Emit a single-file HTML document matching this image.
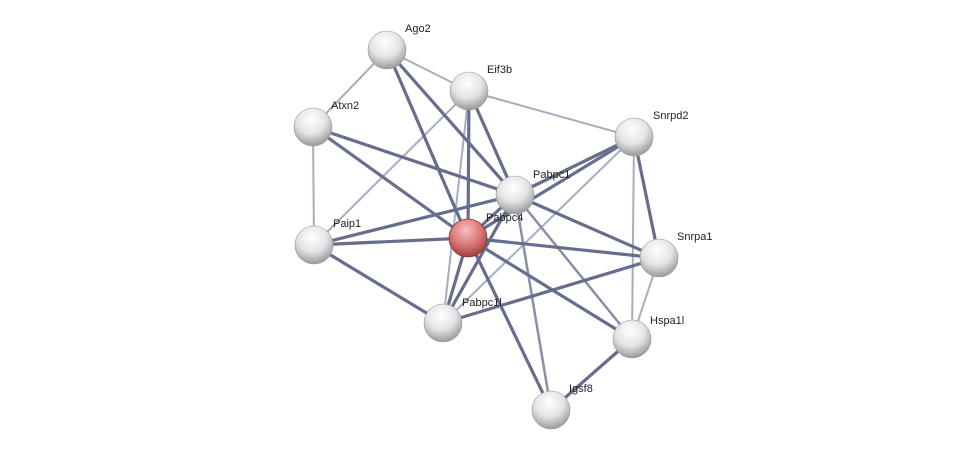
<!DOCTYPE html><html><head><style>body{margin:0;background:#fff}svg{display:block}text{font-family:"Liberation Sans",sans-serif;font-size:11px;fill:#222}</style></head><body>
<svg width="976" height="455" xmlns="http://www.w3.org/2000/svg">
<defs>
<radialGradient id="g" cx="45%" cy="30%" r="70%"><stop offset="0" stop-color="#fff"/><stop offset="0.55" stop-color="#e4e4e4"/><stop offset="1" stop-color="#999"/></radialGradient>
<radialGradient id="r" cx="45%" cy="30%" r="70%"><stop offset="0" stop-color="#f8c0c0"/><stop offset="0.55" stop-color="#dd7878"/><stop offset="1" stop-color="#a04040"/></radialGradient>
</defs>
<g stroke-linecap="round">
<g stroke="#a9acc0" stroke-width="2">
<line x1="387" y1="50" x2="313" y2="127"/><line x1="387" y1="50" x2="469" y2="91"/>
<line x1="469" y1="91" x2="634" y2="137"/><line x1="469" y1="91" x2="314" y2="245"/>
<line x1="469" y1="91" x2="443" y2="323"/><line x1="313" y1="127" x2="314" y2="245"/>
<line x1="634" y1="137" x2="443" y2="323"/><line x1="634" y1="137" x2="632" y2="339"/>
<line x1="659" y1="258" x2="632" y2="339"/>
</g>
<g stroke="#8a8ea8" stroke-width="2.5">
<line x1="515" y1="195" x2="632" y2="339"/><line x1="515" y1="195" x2="551" y2="410"/>
</g>
<g stroke="#676d8c" stroke-width="3.2">
<line x1="387" y1="50" x2="468" y2="238"/><line x1="387" y1="50" x2="515" y2="195"/>
<line x1="469" y1="91" x2="468" y2="238"/><line x1="469" y1="91" x2="515" y2="195"/>
<line x1="313" y1="127" x2="515" y2="195"/><line x1="313" y1="127" x2="468" y2="238"/>
<line x1="634" y1="137" x2="515" y2="195"/><line x1="634" y1="137" x2="468" y2="238"/>
<line x1="634" y1="137" x2="659" y2="258"/>
<line x1="515" y1="195" x2="314" y2="245"/><line x1="515" y1="195" x2="468" y2="238"/>
<line x1="515" y1="195" x2="659" y2="258"/><line x1="515" y1="195" x2="443" y2="323"/>
<line x1="468" y1="238" x2="314" y2="245"/><line x1="468" y1="238" x2="659" y2="258"/>
<line x1="468" y1="238" x2="443" y2="323"/><line x1="468" y1="238" x2="632" y2="339"/>
<line x1="468" y1="238" x2="551" y2="410"/><line x1="314" y1="245" x2="443" y2="323"/>
<line x1="443" y1="323" x2="659" y2="258"/><line x1="632" y1="339" x2="551" y2="410"/>
</g>
</g>
<g>
<circle cx="387" cy="50" r="19" fill="url(#g)" stroke="#999" stroke-width="0.6"/>
<circle cx="469" cy="91" r="19" fill="url(#g)" stroke="#999" stroke-width="0.6"/>
<circle cx="313" cy="127" r="19" fill="url(#g)" stroke="#999" stroke-width="0.6"/>
<circle cx="634" cy="137" r="19" fill="url(#g)" stroke="#999" stroke-width="0.6"/>
<circle cx="515" cy="195" r="19" fill="url(#g)" stroke="#999" stroke-width="0.6"/>
<circle cx="468" cy="238" r="19" fill="url(#r)" stroke="#8a3030" stroke-width="0.8"/>
<circle cx="314" cy="245" r="19" fill="url(#g)" stroke="#999" stroke-width="0.6"/>
<circle cx="659" cy="258" r="19" fill="url(#g)" stroke="#999" stroke-width="0.6"/>
<circle cx="443" cy="323" r="19" fill="url(#g)" stroke="#999" stroke-width="0.6"/>
<circle cx="632" cy="339" r="19" fill="url(#g)" stroke="#999" stroke-width="0.6"/>
<circle cx="551" cy="410" r="19" fill="url(#g)" stroke="#999" stroke-width="0.6"/>
</g>
<text x="405" y="32">Ago2</text>
<text x="487" y="73">Eif3b</text>
<text x="331" y="109">Atxn2</text>
<text x="653" y="119">Snrpd2</text>
<text x="533" y="178">Pabpc1</text>
<text x="486" y="221">Pabpc4</text>
<text x="333" y="227">Paip1</text>
<text x="677" y="240">Snrpa1</text>
<text x="462" y="306">Pabpc1l</text>
<text x="650" y="324">Hspa1l</text>
<text x="569" y="392">Igsf8</text>
</svg></body></html>
